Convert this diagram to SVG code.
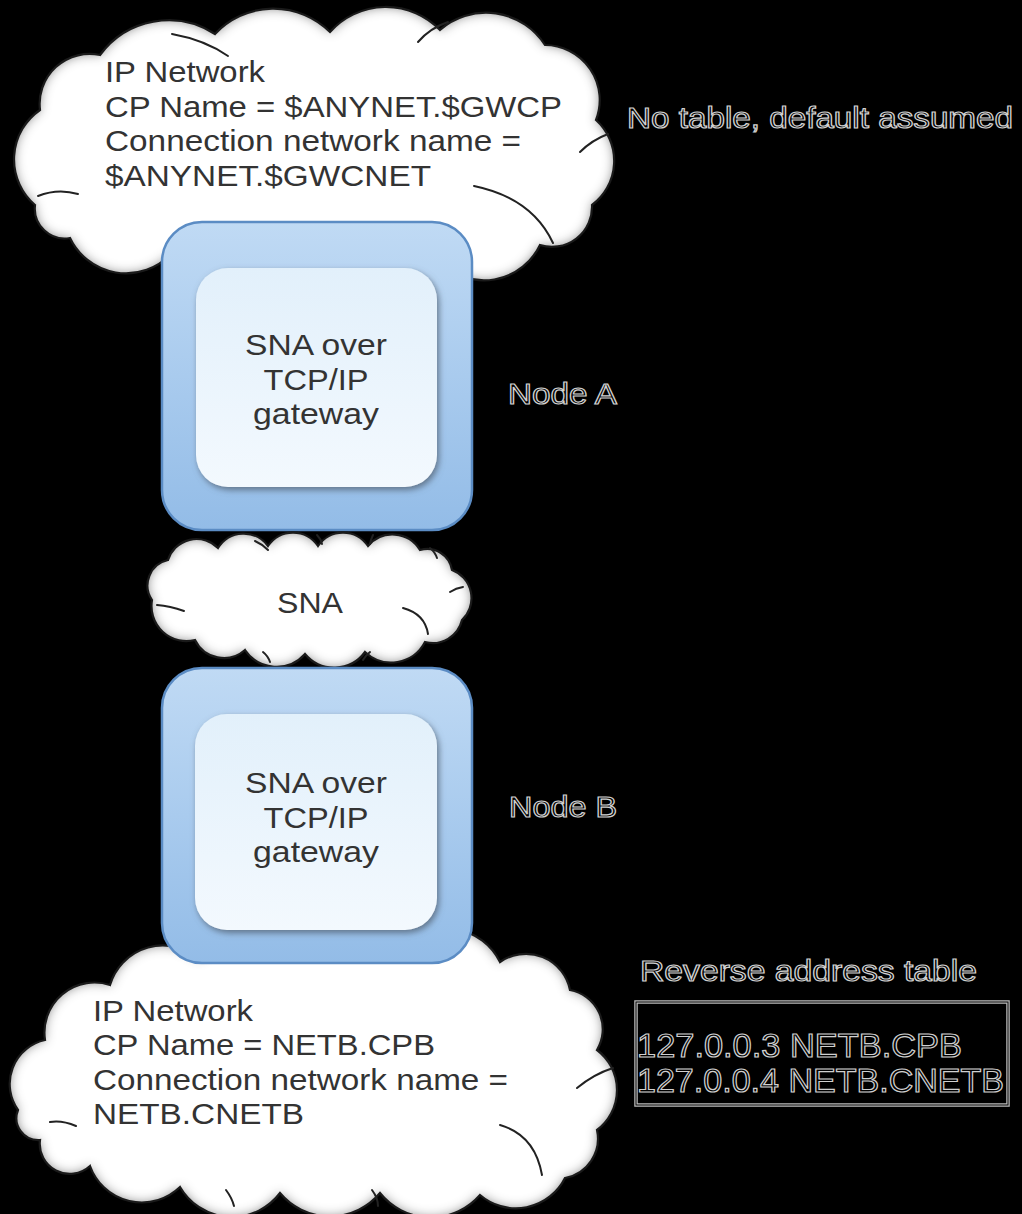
<svg xmlns="http://www.w3.org/2000/svg" width="1022" height="1214" viewBox="0 0 1022 1214">
<defs>
<style>
.t{font-family:"Liberation Sans",Arial,sans-serif;font-size:29px;fill:#333}
.ol{font-family:"Liberation Sans",Arial,sans-serif;font-size:29px;fill:#000;stroke:#d0d0d0;stroke-width:1.2}
.cloud{fill:#fff}
.edge{fill:none;stroke:#1a1a1a;stroke-width:2.2}
.crease{fill:none;stroke:#222;stroke-width:2;stroke-linecap:round}
.outer{fill:url(#outerG);stroke:#5b8cc4;stroke-width:2.5}
.inner{fill:url(#innerG);filter:url(#innerSh)}
</style>
<linearGradient id="outerG" x1="0" y1="0" x2="0" y2="1">
<stop offset="0" stop-color="#c0daf4"/>
<stop offset="0.5" stop-color="#a9cbee"/>
<stop offset="1" stop-color="#93bce7"/>
</linearGradient>
<linearGradient id="innerG" x1="0" y1="0" x2="0" y2="1">
<stop offset="0" stop-color="#e2f0fb"/>
<stop offset="1" stop-color="#f3f9fe"/>
</linearGradient>
<filter id="cloudShade" x="-5%" y="-5%" width="110%" height="110%">
<feGaussianBlur in="SourceAlpha" stdDeviation="6" result="b"/>
<feComposite in="SourceAlpha" in2="b" operator="out" result="e"/>
<feFlood flood-color="#4a4a4a"/>
<feComposite in2="e" operator="in" result="sh"/>
<feMerge><feMergeNode in="SourceGraphic"/><feMergeNode in="sh"/></feMerge>
</filter>
<filter id="innerSh" x="-10%" y="-10%" width="120%" height="120%">
<feGaussianBlur in="SourceAlpha" stdDeviation="3"/>
<feOffset dx="2" dy="3" result="o"/>
<feFlood flood-color="#56677a" flood-opacity="0.85"/>
<feComposite in2="o" operator="in"/>
<feMerge><feMergeNode/><feMergeNode in="SourceGraphic"/></feMerge>
</filter>
</defs>
<rect x="0" y="0" width="1022" height="1214" fill="#000"/>

<g id="cloud-top">
<path class="cloud" filter="url(#cloudShade)" d="M35,205 A60,60 0 0 1 40,110 A50,50 0 0 1 100,55 A85,85 0 0 1 215,34 A80,80 0 0 1 330,32 A75,75 0 0 1 440,30 A70,70 0 0 1 545,45 A55,55 0 0 1 596,120 A55,55 0 0 1 592,205 A40,40 0 0 1 540,245 A62,62 0 0 1 440,262 A80,80 0 0 1 300,265 A80,80 0 0 1 170,255 A62,62 0 0 1 70,238 A30,30 0 0 1 35,205 Z"/>
<path class="edge" d="M35,205 A60,60 0 0 1 40,110 A50,50 0 0 1 100,55 A85,85 0 0 1 215,34 A80,80 0 0 1 330,32 A75,75 0 0 1 440,30 A70,70 0 0 1 545,45 A55,55 0 0 1 596,120 A55,55 0 0 1 592,205 A40,40 0 0 1 540,245 A62,62 0 0 1 440,262 A80,80 0 0 1 300,265 A80,80 0 0 1 170,255 A62,62 0 0 1 70,238 A30,30 0 0 1 35,205 Z"/>
<path class="crease" d="M38,196 Q58,188 78,194"/>
<path class="crease" d="M172,34 Q205,40 228,56"/>
<path class="crease" d="M418,42 Q430,28 448,22"/>
<path class="crease" d="M580,152 Q592,140 608,134"/>
<path class="crease" d="M474,186 Q532,198 553,243"/>
<text class="t" x="105" y="82" textLength="160" lengthAdjust="spacingAndGlyphs">IP Network</text>
<text class="t" x="105" y="117" textLength="457" lengthAdjust="spacingAndGlyphs">CP Name = $ANYNET.$GWCP</text>
<text class="t" x="105" y="151" textLength="416" lengthAdjust="spacingAndGlyphs">Connection network name =</text>
<text class="t" x="105" y="186" textLength="326" lengthAdjust="spacingAndGlyphs">$ANYNET.$GWCNET</text>
</g>

<g id="node-a">
<rect class="outer" x="162" y="222" width="310" height="308" rx="40"/>
<rect class="inner" x="196" y="268" width="241" height="219" rx="32"/>
<text class="t" x="316" y="355" text-anchor="middle" textLength="142" lengthAdjust="spacingAndGlyphs">SNA over</text>
<text class="t" x="316" y="390" text-anchor="middle" textLength="105" lengthAdjust="spacingAndGlyphs">TCP/IP</text>
<text class="t" x="316" y="424" text-anchor="middle" textLength="126" lengthAdjust="spacingAndGlyphs">gateway</text>
</g>

<g id="cloud-sna">
<path class="cloud" filter="url(#cloudShade)" d="M195,640 A35,35 0 0 1 152,600 A26,26 0 0 1 168,560 A30,30 0 0 1 218,548 A30,30 0 0 1 268,546 A30,30 0 0 1 318,546 A30,30 0 0 1 368,546 A32,32 0 0 1 420,550 A25,25 0 0 1 452,570 A30,30 0 0 1 462,620 A30,30 0 0 1 425,642 A38,38 0 0 1 365,652 A38,38 0 0 1 305,654 A38,38 0 0 1 245,650 A32,32 0 0 1 195,640 Z"/>
<path class="edge" d="M195,640 A35,35 0 0 1 152,600 A26,26 0 0 1 168,560 A30,30 0 0 1 218,548 A30,30 0 0 1 268,546 A30,30 0 0 1 318,546 A30,30 0 0 1 368,546 A32,32 0 0 1 420,550 A25,25 0 0 1 452,570 A30,30 0 0 1 462,620 A30,30 0 0 1 425,642 A38,38 0 0 1 365,652 A38,38 0 0 1 305,654 A38,38 0 0 1 245,650 A32,32 0 0 1 195,640 Z"/>
<path class="crease" d="M255,541 Q262,544 268,550"/>
<path class="crease" d="M317,535 Q321,539 322,544"/>
<path class="crease" d="M373,535 Q371,539 370,544"/>
<path class="crease" d="M430,548 Q435,552 437,558"/>
<path class="crease" d="M450,592 Q456,588 463,587"/>
<path class="crease" d="M403,608 Q425,614 428,634"/>
<path class="crease" d="M157,605 Q170,606 184,611"/>
<path class="crease" d="M263,652 Q268,656 270,662"/>
<path class="crease" d="M370,652 Q366,655 363,660"/>
<text class="t" x="310" y="613" text-anchor="middle" textLength="66" lengthAdjust="spacingAndGlyphs">SNA</text>
</g>

<g id="cloud-bottom">
<path class="cloud" filter="url(#cloudShade)" d="M18,1110 A45,45 0 0 1 45,1040 A50,50 0 0 1 110,985 A55,55 0 0 1 200,960 A60,60 0 0 1 300,950 A60,60 0 0 1 400,950 A60,60 0 0 1 500,962 A45,45 0 0 1 570,990 A40,40 0 0 1 597,1050 A50,50 0 0 1 597,1130 A40,40 0 0 1 565,1178 A55,55 0 0 1 480,1195 A65,65 0 0 1 380,1193 A65,65 0 0 1 280,1193 A60,60 0 0 1 180,1187 A55,55 0 0 1 90,1166 A30,30 0 0 1 40,1140 A22,22 0 0 1 18,1110 Z"/>
<path class="edge" d="M18,1110 A45,45 0 0 1 45,1040 A50,50 0 0 1 110,985 A55,55 0 0 1 200,960 A60,60 0 0 1 300,950 A60,60 0 0 1 400,950 A60,60 0 0 1 500,962 A45,45 0 0 1 570,990 A40,40 0 0 1 597,1050 A50,50 0 0 1 597,1130 A40,40 0 0 1 565,1178 A55,55 0 0 1 480,1195 A65,65 0 0 1 380,1193 A65,65 0 0 1 280,1193 A60,60 0 0 1 180,1187 A55,55 0 0 1 90,1166 A30,30 0 0 1 40,1140 A22,22 0 0 1 18,1110 Z"/>
<path class="crease" d="M50,1122 Q62,1120 76,1126"/>
<path class="crease" d="M500,1125 Q535,1135 542,1175"/>
<path class="crease" d="M577,1088 Q594,1074 613,1068"/>
<path class="crease" d="M226,1190 Q232,1198 234,1206"/>
<path class="crease" d="M372,1190 Q378,1198 378,1206"/>
<text class="t" x="93" y="1021" textLength="160" lengthAdjust="spacingAndGlyphs">IP Network</text>
<text class="t" x="93" y="1055" textLength="342" lengthAdjust="spacingAndGlyphs">CP Name = NETB.CPB</text>
<text class="t" x="93" y="1090" textLength="415" lengthAdjust="spacingAndGlyphs">Connection network name =</text>
<text class="t" x="93" y="1124" textLength="211" lengthAdjust="spacingAndGlyphs">NETB.CNETB</text>
</g>

<g id="node-b">
<rect class="outer" x="162" y="668" width="310" height="295" rx="40"/>
<rect class="inner" x="195" y="714" width="242" height="216" rx="32"/>
<text class="t" x="316" y="793" text-anchor="middle" textLength="142" lengthAdjust="spacingAndGlyphs">SNA over</text>
<text class="t" x="316" y="828" text-anchor="middle" textLength="105" lengthAdjust="spacingAndGlyphs">TCP/IP</text>
<text class="t" x="316" y="862" text-anchor="middle" textLength="126" lengthAdjust="spacingAndGlyphs">gateway</text>
</g>

<g id="connectors"></g>

<g id="label-no-table">
<text class="ol" x="627" y="128" textLength="386" lengthAdjust="spacingAndGlyphs">No table, default assumed</text>
</g>
<g id="label-node-a">
<text class="ol" x="508" y="404" textLength="109" lengthAdjust="spacingAndGlyphs">Node A</text>
</g>
<g id="label-node-b">
<text class="ol" x="509" y="817" textLength="108" lengthAdjust="spacingAndGlyphs">Node B</text>
</g>
<g id="reverse-table">
<text class="ol" x="640" y="981" textLength="337" lengthAdjust="spacingAndGlyphs">Reverse address table</text>
<rect x="636" y="1002" width="372" height="103" fill="#000" stroke="#bdbdbd" stroke-width="3.5"/>
<rect x="636" y="1002" width="372" height="103" fill="none" stroke="#000" stroke-width="1"/>
<text class="ol" x="637" y="1057" style="font-size:33px" textLength="325" lengthAdjust="spacingAndGlyphs">127.0.0.3 NETB.CPB</text>
<text class="ol" x="637" y="1092" style="font-size:33px" textLength="367" lengthAdjust="spacingAndGlyphs">127.0.0.4 NETB.CNETB</text>
</g>
</svg>
